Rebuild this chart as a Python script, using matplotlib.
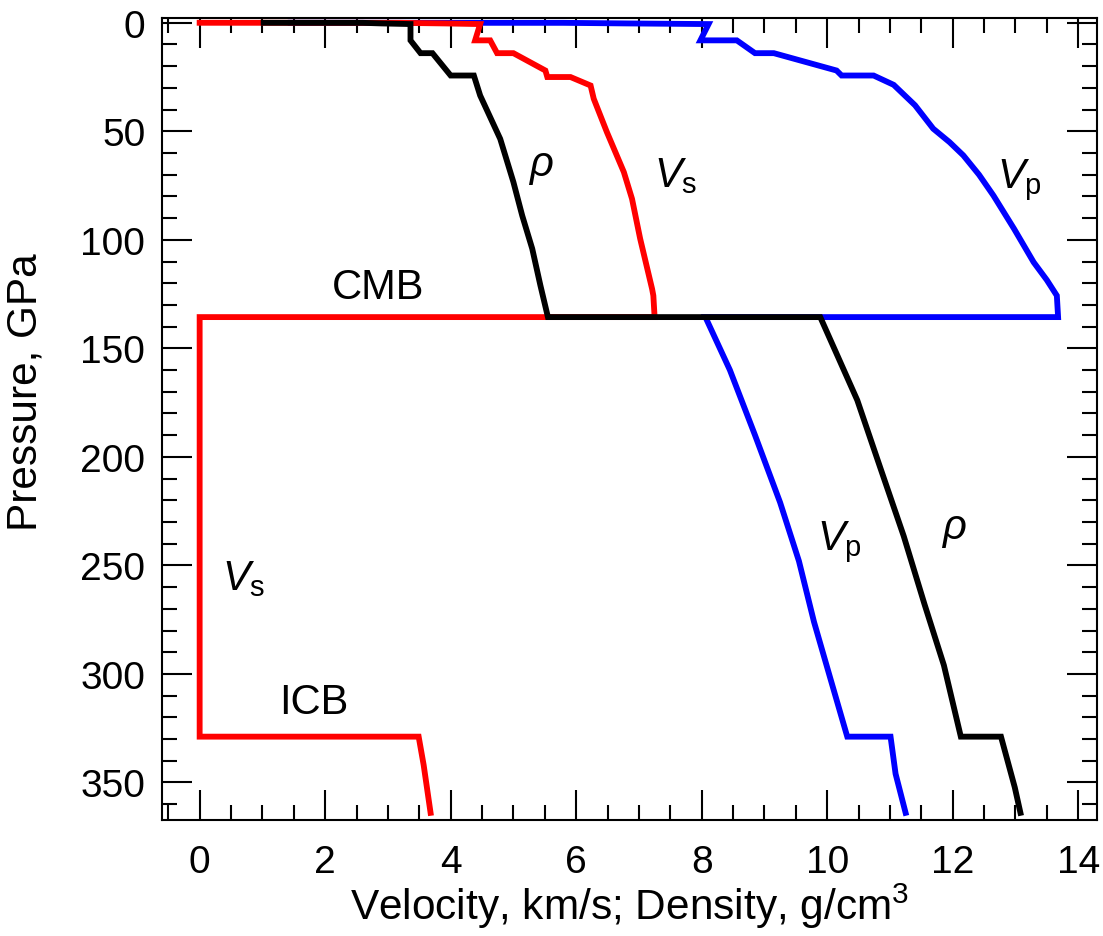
import numpy as np
import matplotlib
matplotlib.use('Agg')
import matplotlib.pyplot as plt
from matplotlib.ticker import MultipleLocator

plt.rcParams['font.family'] = ['Liberation Sans', 'DejaVu Sans']
plt.rcParams['mathtext.fontset'] = 'custom'
plt.rcParams['mathtext.rm'] = 'Liberation Sans'
plt.rcParams['mathtext.it'] = 'Liberation Sans:italic'

# P-wave velocity (km/s) vs pressure (GPa)
vp_vel = [1.45, 5.8, 6.8, 8.11, 7.98, 8.56, 8.85, 9.15, 10.15, 10.23, 10.74, 11.06, 11.40,
          11.69, 11.95, 12.17, 12.42, 12.65, 12.98, 13.29, 13.50, 13.66, 13.68, 8.06, 8.45,
          8.85, 9.25, 9.55, 9.79, 10.05, 10.32, 11.01, 11.09, 11.25]
vp_p = [0, 0.03, 0.3, 0.6, 8.1, 8.1, 14.0, 14.0, 22.0, 24.3, 24.3, 28.6, 38.0,
        48.8, 55.0, 61.1, 70.0, 79.6, 95.0, 110.3, 118.5, 125.7, 135.6, 135.6, 160,
        190, 221, 248, 276, 302, 328.9, 328.9, 346, 364]

# S-wave velocity (km/s)
vs_vel = [0, 3.2, 3.9, 4.47, 4.39, 4.63, 4.74, 5.0, 5.51, 5.54, 5.91, 6.23, 6.28, 6.49,
          6.76, 6.89, 7.02, 7.21, 7.23, 7.25, 0, 0, 3.49, 3.57, 3.68]
vs_p = [0, 0.03, 0.3, 0.6, 8.1, 8.1, 14.0, 14.0, 22.0, 25.0, 25.0, 28.9, 35, 50.4,
        68.8, 81.1, 99.5, 122.6, 125.7, 135.6, 135.6, 328.9, 328.9, 342, 364]

# density (g/cm3)
rho_val = [1.02, 2.6, 2.9, 3.36, 3.36, 3.52, 3.71, 4.0, 4.37, 4.47, 4.79, 5.0, 5.14,
           5.30, 5.43, 5.55, 9.89, 10.48, 10.85, 11.22, 11.55, 11.86, 12.13, 12.77,
           12.99, 13.08]
rho_p = [0, 0.03, 0.3, 0.6, 8.1, 14.0, 14.0, 24.3, 24.3, 33.5, 53.5, 73.4, 88.8,
         104.1, 121, 135.6, 135.6, 173.9, 205.3, 236.5, 267.8, 296, 328.9, 328.9,
         352.3, 364]

fig = plt.figure(figsize=(11.03, 9.37), dpi=100)
ax = fig.add_axes([162/1103, 1 - 821/937, (1097 - 162)/1103, (821 - 19)/937])

lw = 4.2
ax.plot(vp_vel, vp_p, color='#0000FF', lw=lw, zorder=2, solid_joinstyle='miter')
ax.plot(vs_vel, vs_p, color='#FF0000', lw=lw, zorder=3, solid_joinstyle='miter')
ax.plot(rho_val, rho_p, color='black', lw=lw, zorder=4, solid_joinstyle='miter')

ax.set_xlim(-0.6, 14.3)
ax.set_ylim(367.3, -2.2)
ax.xaxis.set_major_locator(MultipleLocator(2))
ax.xaxis.set_minor_locator(MultipleLocator(0.5))
ax.yaxis.set_major_locator(MultipleLocator(50))
ax.yaxis.set_minor_locator(MultipleLocator(10))
ax.tick_params(which='both', direction='in', top=True, right=True, width=1.5, labelsize=28)
ax.tick_params(which='major', length=21.6)
ax.tick_params(which='minor', length=10.8)
ax.tick_params(axis='x', which='major', pad=17)
ax.tick_params(axis='y', which='major', pad=12)
for s in ax.spines.values():
    s.set_linewidth(1.5)

ax.set_xlabel('Velocity, km/s; Density, g/cm$^3$', fontsize=30.5, labelpad=1)
ax.set_ylabel('Pressure, GPa', fontsize=30.5)
ax.yaxis.set_label_coords(-0.125, 0.535)

fs = 30
ax.text(5.43, 66, r'$\rho$', fontsize=fs, ha='center', va='center')
ax.text(7.58, 70, r'$V_{\mathrm{s}}$', fontsize=fs, ha='center', va='center')
ax.text(13.07, 72, r'$V_{\mathrm{p}}$', fontsize=fs, ha='center', va='center')
ax.text(2.85, 121.7, 'CMB', fontsize=fs, ha='center', va='center')
ax.text(0.70, 256, r'$V_{\mathrm{s}}$', fontsize=fs, ha='center', va='center')
ax.text(1.82, 313, 'ICB', fontsize=fs, ha='center', va='center')
ax.text(10.2, 239, r'$V_{\mathrm{p}}$', fontsize=fs, ha='center', va='center')
ax.text(12.02, 233, r'$\rho$', fontsize=fs, ha='center', va='center')

fig.savefig('out.png', dpi=100)
